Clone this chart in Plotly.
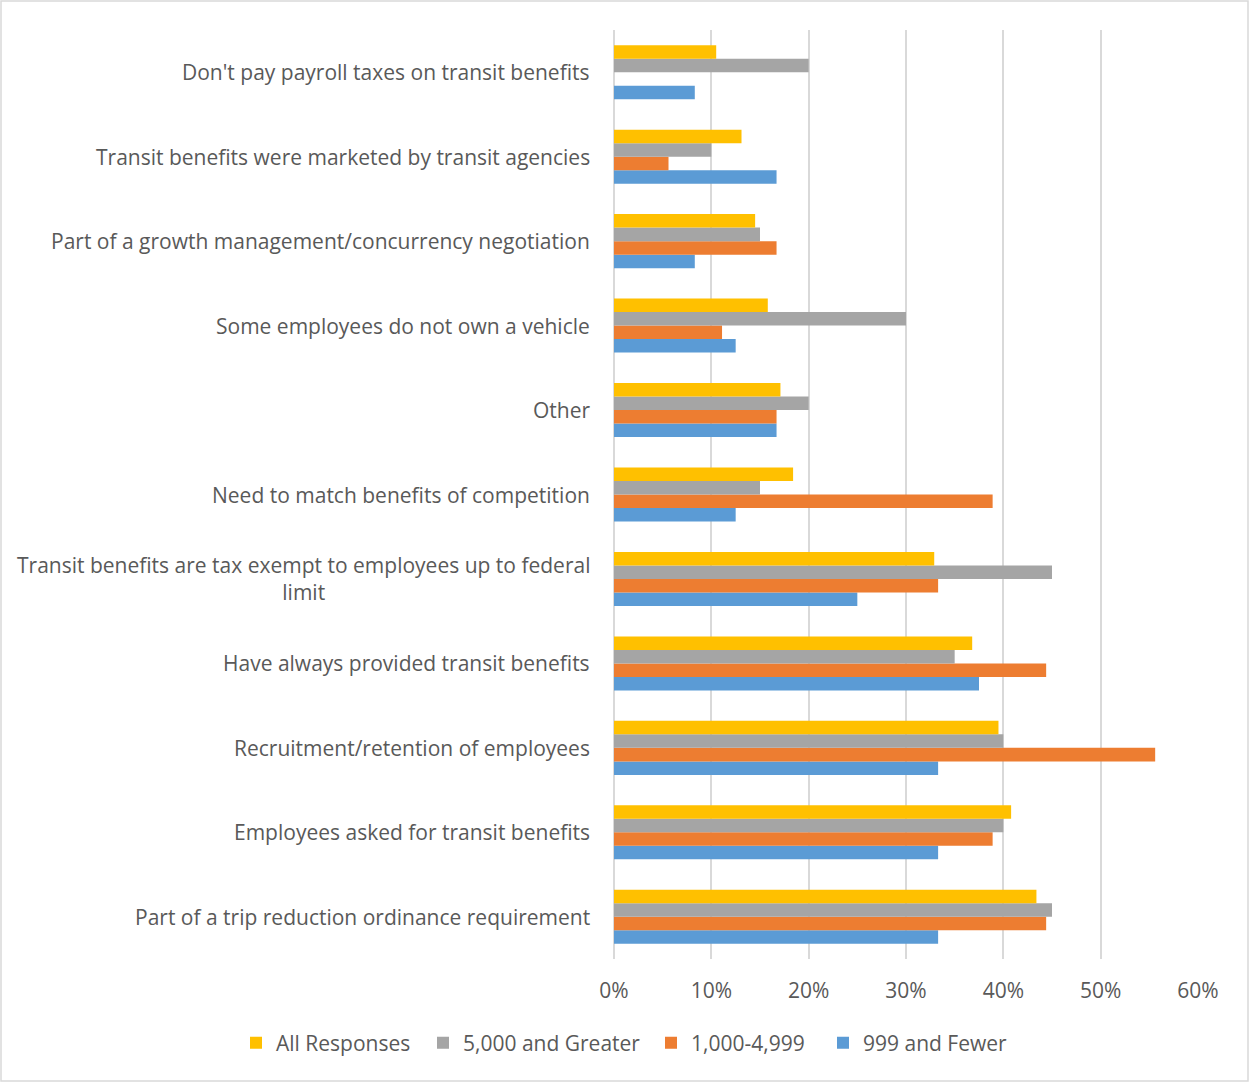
import plotly.graph_objects as go

# Reasons for offering transit benefits, listed bottom to top
categories = [
    "Part of a trip reduction ordinance requirement",
    "Employees asked for transit benefits",
    "Recruitment/retention of employees",
    "Have always provided transit benefits",
    "Transit benefits are tax exempt to employees up to federal<br>limit",
    "Need to match benefits of competition",
    "Other",
    "Some employees do not own a vehicle",
    "Part of a growth management/concurrency negotiation",
    "Transit benefits were marketed by transit agencies",
    "Don't pay payroll taxes on transit benefits",
]

# Share of respondents by employer size (fractions)
fewer_999 = [0.333, 0.333, 0.333, 0.375, 0.25, 0.125, 0.167, 0.125, 0.083, 0.167, 0.083]
mid_1000_4999 = [0.444, 0.389, 0.556, 0.444, 0.333, 0.389, 0.167, 0.111, 0.167, 0.056, None]
greater_5000 = [0.45, 0.40, 0.40, 0.35, 0.45, 0.15, 0.20, 0.30, 0.15, 0.10, 0.20]
all_responses = [0.434, 0.408, 0.395, 0.368, 0.329, 0.184, 0.171, 0.158, 0.145, 0.131, 0.105]

x_ticks = [0, 0.1, 0.2, 0.3, 0.4, 0.5, 0.6]

W, H = 1249, 1082
ML, MR, MT, MB = 614, 51, 30, 123
TEXT = "#595959"
FONT = "Open Sans"
FS = 21

# (name, values, colour, legend id, legend left edge in px)
series = [
    ("999 and Fewer", fewer_999, "#5B9BD5", "legend4", 823),
    ("1,000-4,999", mid_1000_4999, "#ED7D31", "legend3", 651),
    ("5,000 and Greater", greater_5000, "#A5A5A5", "legend2", 423),
    ("All Responses", all_responses, "#FFC000", "legend", 236),
]

pw = W - ML - MR
ph = H - MT - MB
legend_y = -(1043 - (H - MB)) / ph

fig = go.Figure()
legends = {}
for name, vals, color, leg, left_px in series:
    fig.add_trace(go.Bar(
        y=categories, x=vals, name=name, orientation="h",
        marker=dict(color=color, line=dict(width=0)),
        legend=leg,
    ))
    legends[leg] = dict(
        orientation="h", x=(left_px - ML) / pw, xanchor="left",
        y=legend_y, yanchor="middle",
        font=dict(family=FONT, size=FS, color=TEXT),
        itemwidth=30, bgcolor="rgba(0,0,0,0)",
    )

# Category labels as centred multi-line annotations
for cat in categories:
    fig.add_annotation(
        x=0, xref="paper", y=cat, yref="y", text=cat, showarrow=False,
        xanchor="right", xshift=-22, align="center",
        font=dict(family=FONT, size=FS, color=TEXT),
    )

# Outer chart frame
fig.add_shape(
    type="rect", xref="paper", yref="paper",
    x0=(-ML + 1) / pw, x1=(W - ML - 1) / pw,
    y0=(-MB + 1) / ph, y1=(ph + MT - 1) / ph,
    line=dict(color="#D9D9D9", width=1.5), fillcolor="rgba(0,0,0,0)", layer="below",
)

fig.update_layout(
    width=W, height=H,
    margin=dict(l=ML, r=MR, t=MT, b=MB),
    paper_bgcolor="white", plot_bgcolor="white",
    barmode="group", bargap=0.36, bargroupgap=0,
    font=dict(family=FONT, size=FS, color=TEXT),
    showlegend=True,
    xaxis=dict(
        range=[0, 0.6], tickvals=x_ticks, tickformat=".0%",
        showgrid=True, gridcolor="#D9D9D9", gridwidth=1.5,
        zeroline=True, zerolinecolor="#D9D9D9", zerolinewidth=1.5,
        showline=False, ticks="", ticklabelstandoff=17,
        tickfont=dict(family=FONT, size=FS, color=TEXT),
        fixedrange=True,
    ),
    yaxis=dict(
        showticklabels=False, showgrid=False, showline=False, ticks="",
        fixedrange=True,
    ),
    **legends,
)

fig.write_html("out.html")
